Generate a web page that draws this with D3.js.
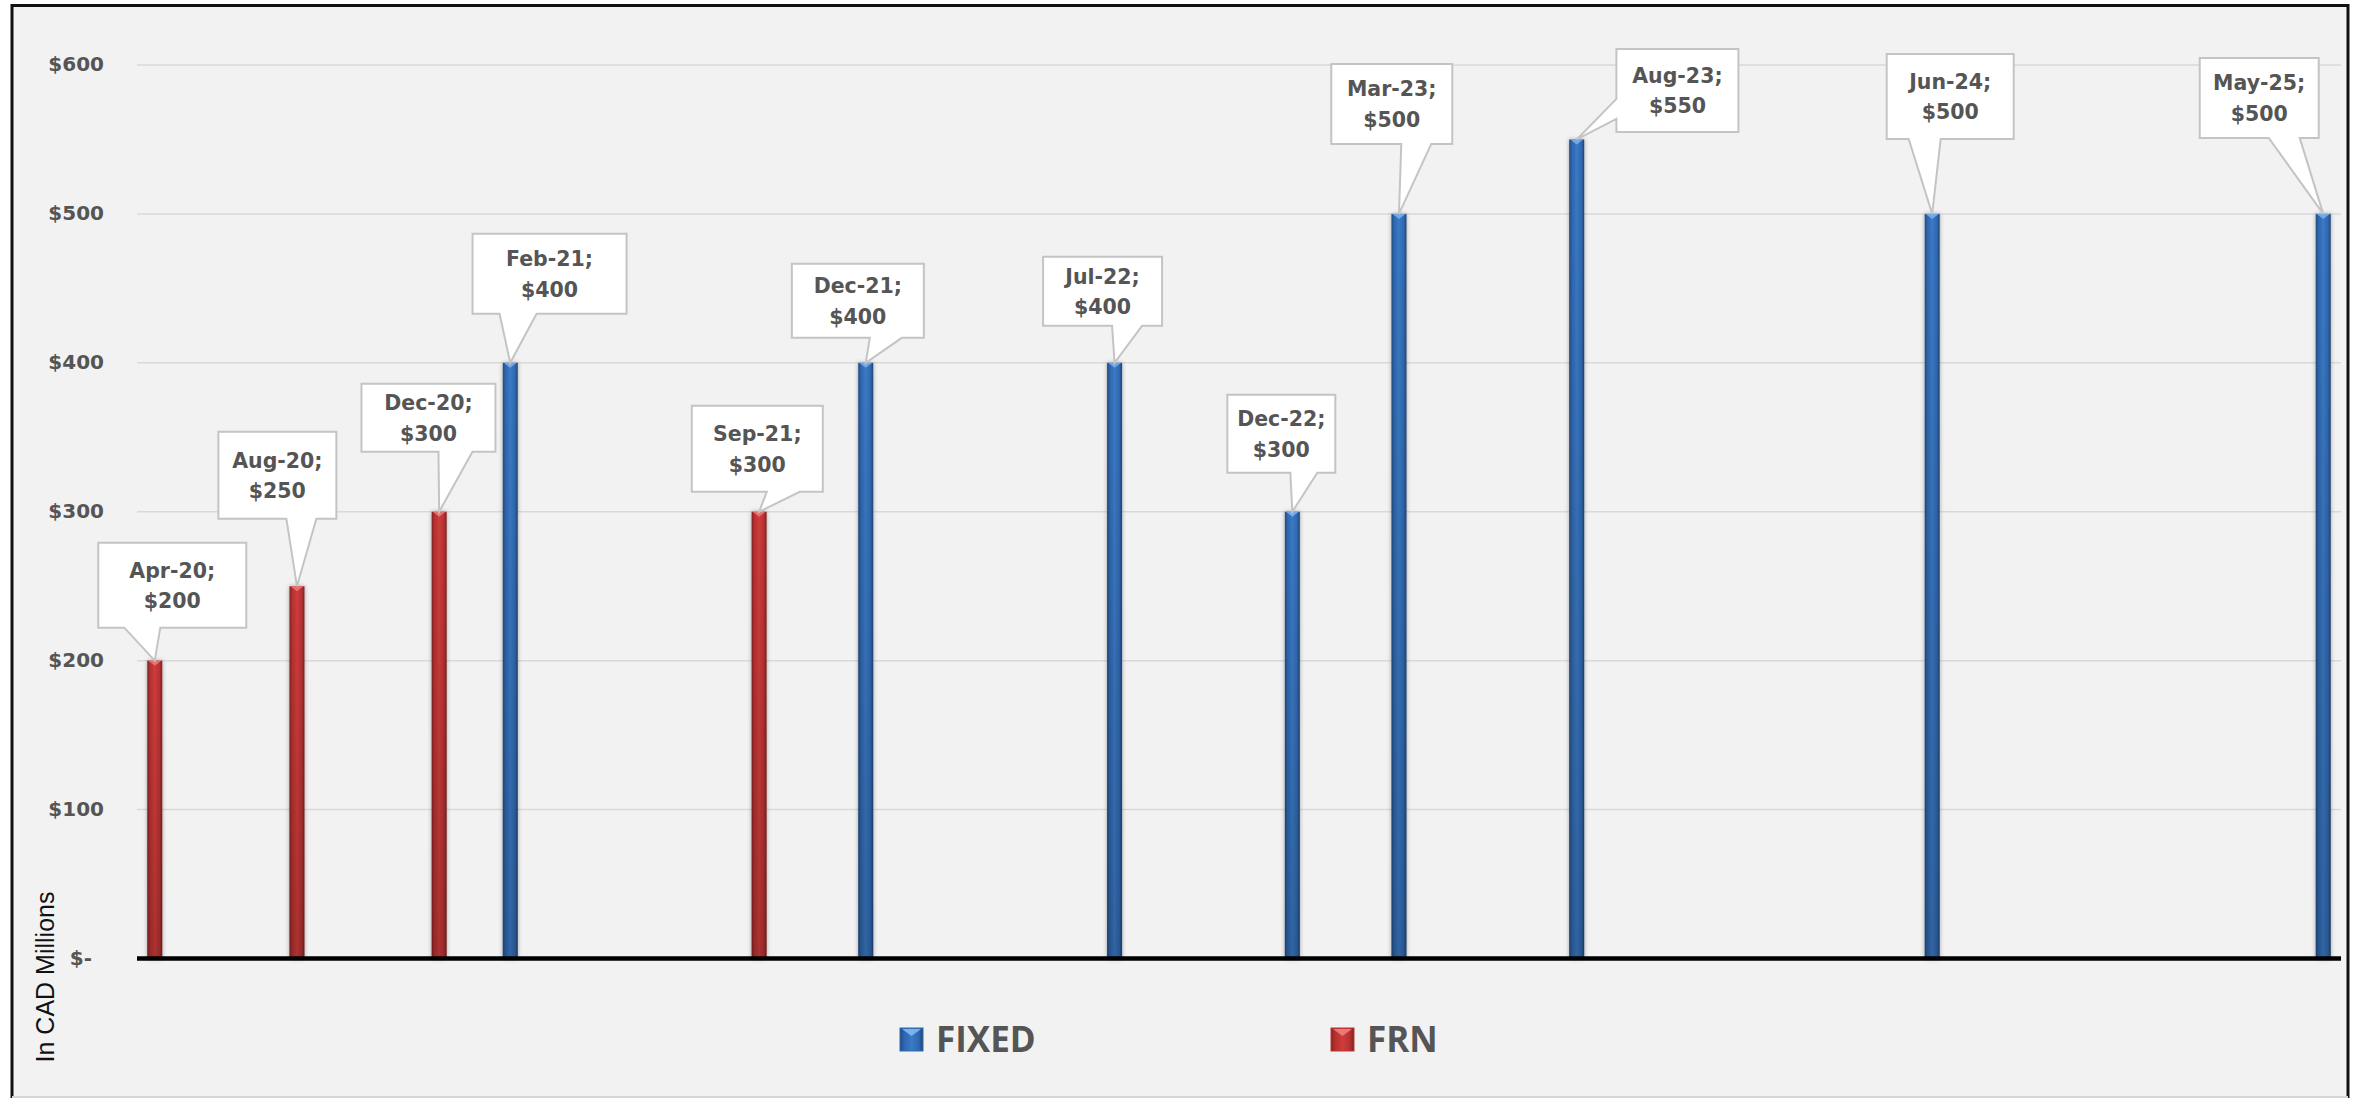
<!DOCTYPE html>
<html>
<head>
<meta charset="utf-8">
<script src="https://cdn.jsdelivr.net/npm/d3@7"></script>
<style>
  html, body { margin: 0; padding: 0; background: #ffffff; }
  svg { display: block; }
</style>
</head>
<body>
<svg id="chart" width="2356" height="1098"></svg>
<script>
// Note issuance by month, amount in CAD millions, and note type
const issueMonths = ["Apr-20", "Aug-20", "Dec-20", "Feb-21", "Sep-21", "Dec-21",
                     "Jul-22", "Dec-22", "Mar-23", "Aug-23", "Jun-24", "May-25"];
const amounts     = [200, 250, 300, 400, 300, 400, 400, 300, 500, 550, 500, 500];
const noteTypes   = ["FRN", "FRN", "FRN", "FIXED", "FRN", "FIXED",
                     "FIXED", "FIXED", "FIXED", "FIXED", "FIXED", "FIXED"];
const seriesNames = ["FIXED", "FRN"];
const yTickValues = [0, 100, 200, 300, 400, 500, 600];
const yTickLabels = ["$-", "$100", "$200", "$300", "$400", "$500", "$600"];
const axisTitle   = "In CAD Millions";

// Callout placement relative to each bar top: box offset/size and pointer base
const calloutLayout = [
  { dx: -56.5, dy: -118,  w: 148, h: 85, side: "bottom", p1: 26, p2: 62 },
  { dx: -78.6, dy: -154.5, w: 118, h: 87, side: "bottom", p1: 68, p2: 98 },
  { dx: -77.7, dy: -128,  w: 134, h: 68, side: "bottom", p1: 77, p2: 111 },
  { dx: -37.7, dy: -129,  w: 154, h: 80, side: "bottom", p1: 27, p2: 64 },
  { dx: -67.3, dy: -106,  w: 131, h: 86, side: "bottom", p1: 75, p2: 108 },
  { dx: -73.9, dy: -99,   w: 132, h: 74, side: "bottom", p1: 78, p2: 110 },
  { dx: -71.5, dy: -106,  w: 119, h: 69, side: "bottom", p1: 69, p2: 99 },
  { dx: -65,   dy: -117,  w: 108, h: 78, side: "bottom", p1: 63, p2: 90 },
  { dx: -67.7, dy: -150,  w: 121, h: 80, side: "bottom", p1: 70, p2: 100 },
  { dx: 39.7,  dy: -90.5, w: 122, h: 83, side: "left",   p1: 50, p2: 70 },
  { dx: -45.5, dy: -160,  w: 127, h: 85, side: "bottom", p1: 22, p2: 54 },
  { dx: -123.5, dy: -156, w: 119, h: 80, side: "bottom", p1: 69, p2: 100 }
];

const monthNames = ["Jan","Feb","Mar","Apr","May","Jun","Jul","Aug","Sep","Oct","Nov","Dec"];
function monthIndex(label) {
  const [m, y] = label.split("-");
  return (2000 + +y) * 12 + monthNames.indexOf(m);
}

const svg = d3.select("#chart");
const plot = { left: 137, right: 2341, top: 65, bottom: 958.5 };
const textGray = "#555555";
const labelFont = "'DejaVu Sans', Verdana, sans-serif";

// Frame
svg.append("rect").attr("x", 12).attr("y", 5).attr("width", 2336).attr("height", 1092)
  .attr("fill", "#f2f2f2");
svg.append("path")
  .attr("d", "M12,1098 V5.5 H2348 V1098")
  .attr("fill", "none").attr("stroke", "#111").attr("stroke-width", 3);
svg.append("line").attr("x1", 12).attr("x2", 2348).attr("y1", 1097).attr("y2", 1097)
  .attr("stroke", "#d6d6d6").attr("stroke-width", 2);

// Scales: monthly date axis, one slot per month
const first = monthIndex(issueMonths[0]);
const last = monthIndex(issueMonths[issueMonths.length - 1]);
const x = d3.scaleLinear().domain([first - 0.5, last + 0.5]).range([plot.left, plot.right]);
const y = d3.scaleLinear().domain([0, 600]).range([plot.bottom, plot.top]);

// Gradients for bevelled bars
const defs = svg.append("defs");
function barGradient(id, stops) {
  const g = defs.append("linearGradient").attr("id", id)
    .attr("x1", "0%").attr("x2", "100%").attr("y1", "0%").attr("y2", "0%");
  stops.forEach(([o, c]) => g.append("stop").attr("offset", o).attr("stop-color", c));
}
barGradient("grad-FIXED", [["0%", "#214a80"], ["18%", "#2f66ad"], ["50%", "#3a7ac6"], ["82%", "#3068ae"], ["100%", "#1f4476"]]);
barGradient("grad-FRN",   [["0%", "#862222"], ["18%", "#b33131"], ["50%", "#d03c3a"], ["82%", "#b53232"], ["100%", "#7f2020"]]);
const shade = defs.append("linearGradient").attr("id", "shade")
  .attr("x1", "0").attr("x2", "0").attr("y1", "0").attr("y2", "1");
shade.append("stop").attr("offset", "0%").attr("stop-color", "#000").attr("stop-opacity", 0);
shade.append("stop").attr("offset", "100%").attr("stop-color", "#000").attr("stop-opacity", 0.18);
const shadow = defs.append("filter").attr("id", "barShadow")
  .attr("x", "-80%").attr("y", "-5%").attr("width", "260%").attr("height", "110%");
shadow.append("feDropShadow").attr("dx", 0).attr("dy", 0).attr("stdDeviation", 2)
  .attr("flood-color", "#000").attr("flood-opacity", 0.35);

// Grid lines
svg.append("g").selectAll("line")
  .data(yTickValues.filter(v => v > 0))
  .join("line")
  .attr("x1", plot.left).attr("x2", plot.right)
  .attr("y1", d => y(d)).attr("y2", d => y(d))
  .attr("stroke", "#d9d9d9").attr("stroke-width", 1.5);

// Y axis labels
const yAxis = d3.axisLeft(y).tickValues(yTickValues)
  .tickFormat((d, i) => yTickLabels[i]).tickSize(0).tickPadding(0);
const yAxisG = svg.append("g").attr("transform", "translate(104,0)").call(yAxis);
yAxisG.select(".domain").remove();
yAxisG.selectAll("text")
  .attr("font-family", labelFont).attr("font-weight", "bold").attr("font-size", 20)
  .attr("fill", textGray).attr("dy", "0.28em")
  .attr("dx", d => d === 0 ? -12 : 0);

// Axis title
svg.append("text")
  .attr("transform", "translate(54,977) rotate(-90)")
  .attr("text-anchor", "middle")
  .attr("font-family", "'Liberation Sans', Arial, sans-serif")
  .attr("font-size", 25).attr("fill", "#111")
  .text(axisTitle);

// Bars
const barW = 15;
const data = issueMonths.map((m, i) => ({ month: m, value: amounts[i], type: noteTypes[i], layout: calloutLayout[i] }));
const bars = svg.append("g").selectAll("g").data(data).join("g");
bars.append("rect")
  .attr("x", d => x(monthIndex(d.month)) - barW / 2)
  .attr("y", d => y(d.value))
  .attr("width", barW)
  .attr("height", d => y(0) - y(d.value))
  .attr("fill", d => `url(#grad-${d.type})`)
  .attr("filter", "url(#barShadow)");
bars.append("rect")
  .attr("x", d => x(monthIndex(d.month)) - barW / 2)
  .attr("y", d => y(d.value))
  .attr("width", barW)
  .attr("height", d => y(0) - y(d.value))
  .attr("fill", "url(#shade)");
// bevel cap on top of each bar
bars.append("path")
  .attr("d", d => {
    const cx = x(monthIndex(d.month)), ty = y(d.value);
    return `M${cx - barW / 2 + 1},${ty} L${cx + barW / 2 - 1},${ty} L${cx},${ty + 5} Z`;
  })
  .attr("fill", d => d.type === "FIXED" ? "#7fb2ee" : "#f07a76")
  .attr("opacity", 0.85);

// X axis baseline
svg.append("line")
  .attr("x1", plot.left).attr("x2", plot.right)
  .attr("y1", y(0)).attr("y2", y(0))
  .attr("stroke", "#000").attr("stroke-width", 4.5);

// Data callouts
const callouts = svg.append("g").selectAll("g").data(data).join("g");
callouts.append("path")
  .attr("d", d => {
    const tx = x(monthIndex(d.month)), ty = y(d.value), L = d.layout;
    const x0 = tx + L.dx, y0 = ty + L.dy, x1 = x0 + L.w, y1 = y0 + L.h;
    if (L.side === "left") {
      return `M${x0},${y0} H${x1} V${y1} H${x0} V${y0 + L.p2} L${tx},${ty} L${x0},${y0 + L.p1} Z`;
    }
    return `M${x0},${y0} H${x1} V${y1} H${x0 + L.p2} L${tx},${ty} L${x0 + L.p1},${y1} H${x0} Z`;
  })
  .attr("fill", "#ffffff").attr("stroke", "#c4c4c4").attr("stroke-width", 2)
  .attr("stroke-linejoin", "miter");
callouts.each(function (d) {
  const tx = x(monthIndex(d.month)), ty = y(d.value), L = d.layout;
  const cx = tx + L.dx + L.w / 2, cy = ty + L.dy + L.h / 2;
  const t = d3.select(this).append("text")
    .attr("text-anchor", "middle")
    .attr("font-family", labelFont).attr("font-weight", "bold").attr("font-size", 20.5)
    .attr("fill", textGray);
  t.append("tspan").attr("x", cx).attr("y", cy - 7.5).text(d.month + ";");
  t.append("tspan").attr("x", cx).attr("y", cy + 23).text(d3.format("$,")(d.value));
});

// Legend
const legendColors = { FIXED: "#2f6bb5", FRN: "#bf3535" };
const legendX = [900, 1331];
const legend = svg.append("g").selectAll("g").data(seriesNames).join("g")
  .attr("transform", (d, i) => `translate(${legendX[i]},1028)`);
legend.append("rect").attr("width", 23).attr("height", 23)
  .attr("fill", d => `url(#grad-${d})`).attr("stroke", d => legendColors[d]).attr("stroke-width", 1);
legend.append("path").attr("d", "M2,1 L21,1 L11.5,8 Z")
  .attr("fill", d => d === "FIXED" ? "#8cc0f5" : "#f58a86").attr("opacity", 0.8);
legend.append("text")
  .attr("x", 36).attr("y", 24)
  .attr("font-family", "'Open Sans', sans-serif").attr("font-weight", "bold")
  .attr("font-size", 35).attr("fill", textGray)
  .text(d => d);
</script>
</body>
</html>
